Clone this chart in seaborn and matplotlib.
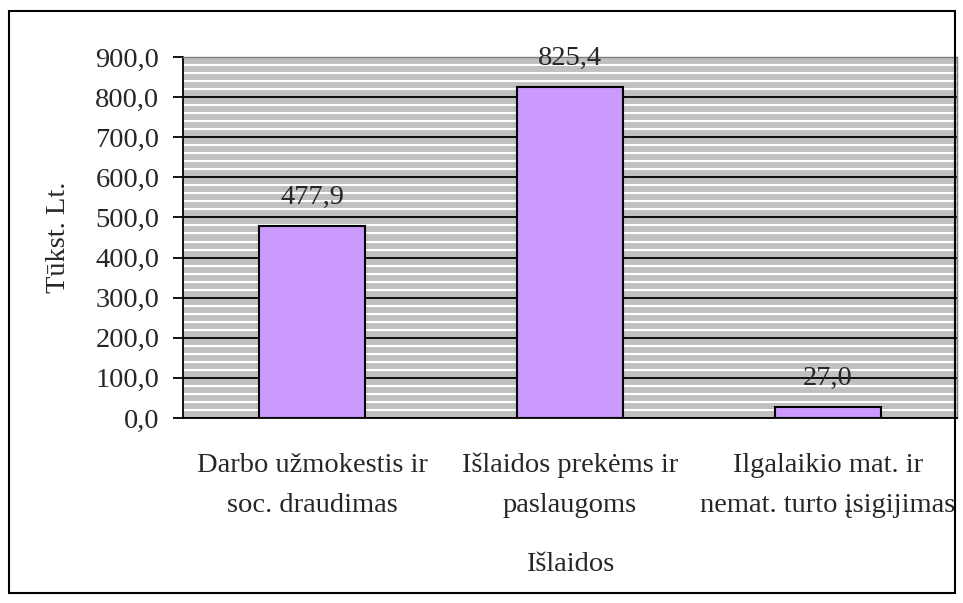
import matplotlib
matplotlib.use("Agg")
import matplotlib.pyplot as plt
from matplotlib.patches import Rectangle
from matplotlib.ticker import MultipleLocator, FuncFormatter
import seaborn as sns
import pandas as pd

categories = ["Darbo užmokestis ir\nsoc. draudimas",
              "Išlaidos prekėms ir\npaslaugoms",
              "Ilgalaikio mat. ir\nnemat. turto įsigijimas"]
values = [477.9, 825.4, 27.0]

df = pd.DataFrame({"cat": categories, "val": values})

sns.set_style("white")
plt.rcParams["font.family"] = ["Liberation Serif", "DejaVu Serif"]
FS = 20.5

fig = plt.figure(figsize=(9.63, 6.03), dpi=100)
ax = fig.add_axes([183 / 963, 1 - 418 / 603, (957 - 183) / 963, (418 - 57) / 603])

sns.barplot(data=df, x="cat", y="val", color="#CC99FF", width=0.41,
            edgecolor="black", linewidth=1.5, saturation=1, ax=ax, zorder=3)

ax.set_facecolor("#C0C0C0")
ax.set_ylim(0, 900)
ax.set_xlim(-0.5, 2.5)
ax.yaxis.set_major_locator(MultipleLocator(100))
ax.yaxis.set_minor_locator(MultipleLocator(20))
ax.yaxis.set_major_formatter(FuncFormatter(lambda v, p: f"{v:.1f}".replace(".", ",")))
ax.grid(which="minor", axis="y", color="white", linewidth=1.5, zorder=1)
ax.grid(which="major", axis="y", color="black", linewidth=1.3, zorder=2)
ax.set_axisbelow(True)

ax.set_xticks([-0.5, 0.5, 1.5, 2.5], minor=False)
ax.set_xticklabels([])
ax.set_xticks([0, 1, 2], minor=True)
ax.set_xticklabels(categories, minor=True, fontsize=FS, linespacing=1.8)
ax.tick_params(axis="x", which="major", length=7, width=1.3, direction="out", color="black")
ax.tick_params(axis="x", which="minor", length=0, pad=25)
ax.tick_params(axis="y", which="major", length=7, width=1.3, direction="out", color="black",
               left=True, labelsize=FS, pad=10)
ax.tick_params(axis="y", which="minor", length=0)

for s in ["left", "bottom"]:
    ax.spines[s].set_color("black")
    ax.spines[s].set_linewidth(1.3)
for s in ["top", "right"]:
    ax.spines[s].set_color("#808080")
    ax.spines[s].set_linewidth(1.0)

for i, v in enumerate(values):
    ax.text(i, v + 55, f"{v:.1f}".replace(".", ","), ha="center", va="baseline",
            fontsize=FS, zorder=4)

ax.set_xlabel("Išlaidos", fontsize=FS)
ax.set_ylabel("Tūkst. Lt.", fontsize=FS)
ax.xaxis.set_label_coords(0.5, -0.37)
ax.yaxis.set_label_coords(-0.145, 0.5)

fig.patches.append(Rectangle((9 / 963, 1 - 593 / 603), (955 - 9) / 963, (593 - 11) / 603,
                             transform=fig.transFigure, fill=False, edgecolor="black",
                             linewidth=1.5, zorder=0))

fig.savefig("out.png", dpi=100)
